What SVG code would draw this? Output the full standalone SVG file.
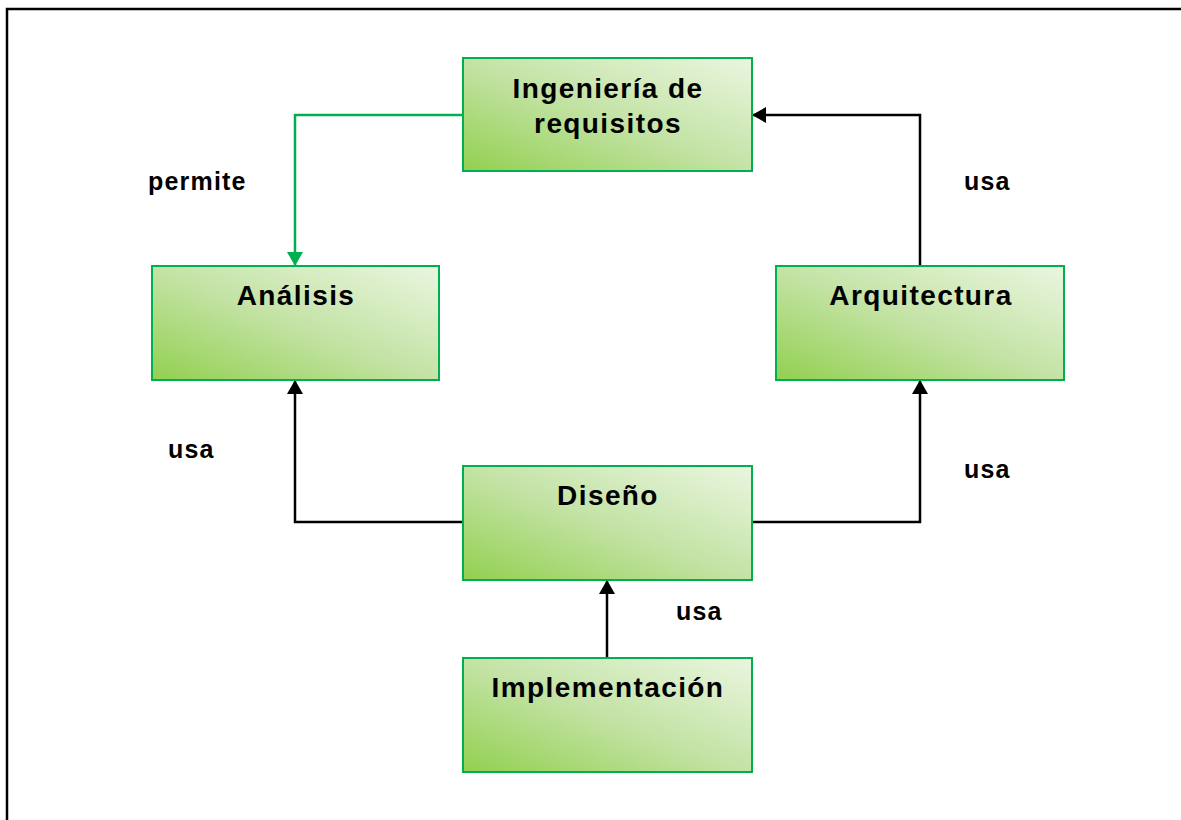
<svg xmlns="http://www.w3.org/2000/svg" width="1181" height="820" viewBox="0 0 1181 820">
<defs>
<linearGradient id="g" x1="0" y1="1" x2="1" y2="0">
<stop offset="0" stop-color="#92d050"/>
<stop offset="0.5" stop-color="#c4e3a6"/>
<stop offset="1" stop-color="#eaf6e0"/>
</linearGradient>
<marker id="ab" viewBox="0 0 14 16" refX="14" refY="8" markerWidth="14" markerHeight="16" markerUnits="userSpaceOnUse" orient="auto">
<path d="M0,0 L14,8 L0,16 Z" fill="#000"/>
</marker>
<marker id="ag" viewBox="0 0 14 16" refX="14" refY="8" markerWidth="14" markerHeight="16" markerUnits="userSpaceOnUse" orient="auto">
<path d="M0,0 L14,8 L0,16 Z" fill="#00b050"/>
</marker>
</defs>
<style>
.box{fill:url(#g);stroke:#00b050;stroke-width:2}
.t{font-family:"Liberation Sans",Arial,sans-serif;font-weight:bold;font-size:28px;letter-spacing:1.4px;fill:#000;text-anchor:middle}
.l{font-family:"Liberation Sans",Arial,sans-serif;font-weight:bold;font-size:25px;letter-spacing:1.2px;fill:#000}
.c{fill:none;stroke:#000;stroke-width:2.5}
.cg{fill:none;stroke:#00b050;stroke-width:2.5}
</style>
<rect width="1181" height="820" fill="#fff"/>
<rect x="7" y="9" width="1200" height="850" fill="none" stroke="#000" stroke-width="2.5"/>
<g id="connectors">
<path class="cg" d="M463,115 H295 V266" marker-end="url(#ag)"/>
<path class="c" d="M920,266 V115 H752" marker-end="url(#ab)"/>
<path class="c" d="M463,522 H295 V380" marker-end="url(#ab)"/>
<path class="c" d="M752,522 H920 V380" marker-end="url(#ab)"/>
<path class="c" d="M607,658 V580" marker-end="url(#ab)"/>
</g>
<g id="ingenieria">
<rect class="box" x="463" y="58" width="289" height="113"/>
<text class="t" x="608" y="98">Ingeniería de</text>
<text class="t" x="608" y="133">requisitos</text>
</g>
<g id="analisis">
<rect class="box" x="152" y="266" width="287" height="114"/>
<text class="t" x="296" y="305">Análisis</text>
</g>
<g id="arquitectura">
<rect class="box" x="776" y="266" width="288" height="114"/>
<text class="t" x="921" y="305">Arquitectura</text>
</g>
<g id="diseno">
<rect class="box" x="463" y="466" width="289" height="114"/>
<text class="t" x="608" y="505">Diseño</text>
</g>
<g id="implementacion">
<rect class="box" x="463" y="658" width="289" height="114"/>
<text class="t" x="608" y="697">Implementación</text>
</g>
<g id="labels">
<text class="l" x="148" y="190">permite</text>
<text class="l" x="168" y="458">usa</text>
<text class="l" x="964" y="190">usa</text>
<text class="l" x="964" y="478">usa</text>
<text class="l" x="676" y="620">usa</text>
</g>
</svg>
